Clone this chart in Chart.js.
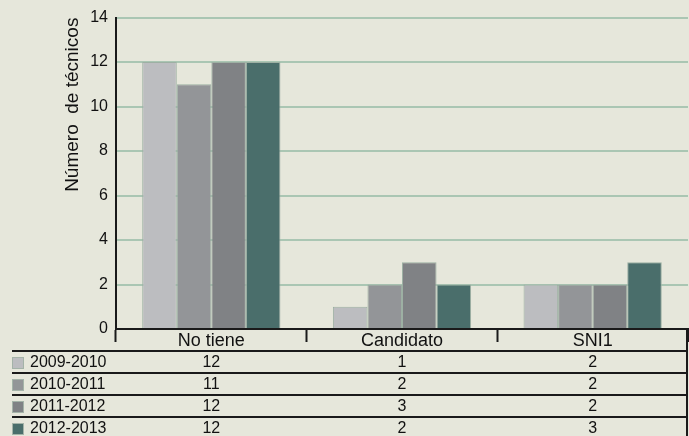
<!DOCTYPE html>
<html>
<head>
<meta charset="utf-8">
<script src="https://cdn.jsdelivr.net/npm/chart.js@4.4.1/dist/chart.umd.min.js"></script>
<style>
  html, body { margin: 0; padding: 0; background: #e6e7db; }
  #wrap { width: 689px; height: 436px; }
</style>
</head>
<body>
<div id="wrap"><canvas id="grafico"></canvas></div>
<script>
// categorias e séries
const categorias = ['No tiene', 'Candidato', 'SNI1'];
const periodos = ['2009-2010', '2010-2011', '2011-2012', '2012-2013'];
const serie2009 = [12, 1, 2];
const serie2010 = [11, 2, 2];
const serie2011 = [12, 3, 2];
const serie2012 = [12, 2, 3];
const cores = ['#bcbdc0', '#939598', '#808285', '#4a6e6b'];
const ticksY = [0, 2, 4, 6, 8, 10, 12, 14];

const series = [serie2009, serie2010, serie2011, serie2012];
const fonte = 'Arial, "Liberation Sans", sans-serif';

// tabela de dados embaixo do gráfico
const tabela = {
  id: 'tabela',
  afterDraw(chart) {
    const ctx = chart.ctx;
    const x = chart.scales.x;
    const area = chart.chartArea;
    const esq = 12, dir = 688;
    const linhas = [351, 373, 395, 417];
    ctx.save();
    ctx.strokeStyle = '#1a1a1a';
    ctx.lineWidth = 2;
    linhas.forEach(y => {
      ctx.beginPath(); ctx.moveTo(esq, y); ctx.lineTo(dir, y); ctx.stroke();
    });
    // borda direita
    ctx.beginPath(); ctx.moveTo(687, area.bottom); ctx.lineTo(687, 436); ctx.stroke();

    // nomes das categorias
    ctx.fillStyle = '#111';
    ctx.textAlign = 'center';
    ctx.textBaseline = 'middle';
    ctx.font = '18px ' + fonte;
    categorias.forEach((c, i) => ctx.fillText(c, x.getPixelForValue(i), 341));

    // linhas de valores
    ctx.font = '16px ' + fonte;
    series.forEach((s, r) => {
      const yc = linhas[r] + 12;
      ctx.fillStyle = cores[r];
      ctx.fillRect(esq, yc - 6, 12, 12);
      ctx.strokeStyle = '#a4b3a8';
      ctx.lineWidth = 1;
      ctx.strokeRect(esq + 0.5, yc - 5.5, 11, 11);
      ctx.fillStyle = '#111';
      ctx.textAlign = 'left';
      ctx.fillText(periodos[r], 30, yc);
      ctx.textAlign = 'center';
      s.forEach((v, i) => ctx.fillText(String(v), x.getPixelForValue(i), yc));
    });
    ctx.restore();
  }
};

new Chart(document.getElementById('grafico'), {
  type: 'bar',
  data: {
    labels: categorias,
    datasets: periodos.map((p, i) => ({
      label: p,
      data: series[i],
      backgroundColor: cores[i],
      borderColor: '#9db0a3',
      borderWidth: 1,
      categoryPercentage: 0.725,
      barPercentage: 1
    }))
  },
  options: {
    responsive: true,
    maintainAspectRatio: false,
    animation: false,
    layout: { padding: { top: 17, right: 1, left: 0, bottom: 0 } },
    plugins: { legend: { display: false }, tooltip: { enabled: false } },
    scales: {
      x: {
        grid: { drawOnChartArea: false, drawTicks: true, tickLength: 13, tickWidth: 2, tickColor: '#1a1a1a', offset: true },
        border: { color: '#1a1a1a', width: 2 },
        ticks: { display: false },
        afterFit: s => { s.height = 107; }
      },
      y: {
        min: 0,
        max: 14,
        afterBuildTicks: s => { s.ticks = ticksY.map(v => ({ value: v })); },
        grid: { color: '#aac6b3', lineWidth: 2, drawTicks: false },
        border: { color: '#1a1a1a', width: 2 },
        ticks: { color: '#111', font: { family: fonte, size: 16 }, padding: 8 },
        title: {
          display: true,
          text: 'Número  de técnicos',
          align: 'end',
          color: '#111',
          font: { family: fonte, size: 19 },
          padding: { top: 61, bottom: 0 }
        },
        afterFit: s => { s.width = 116; }
      }
    }
  },
  plugins: [tabela]
});
</script>
</body>
</html>
